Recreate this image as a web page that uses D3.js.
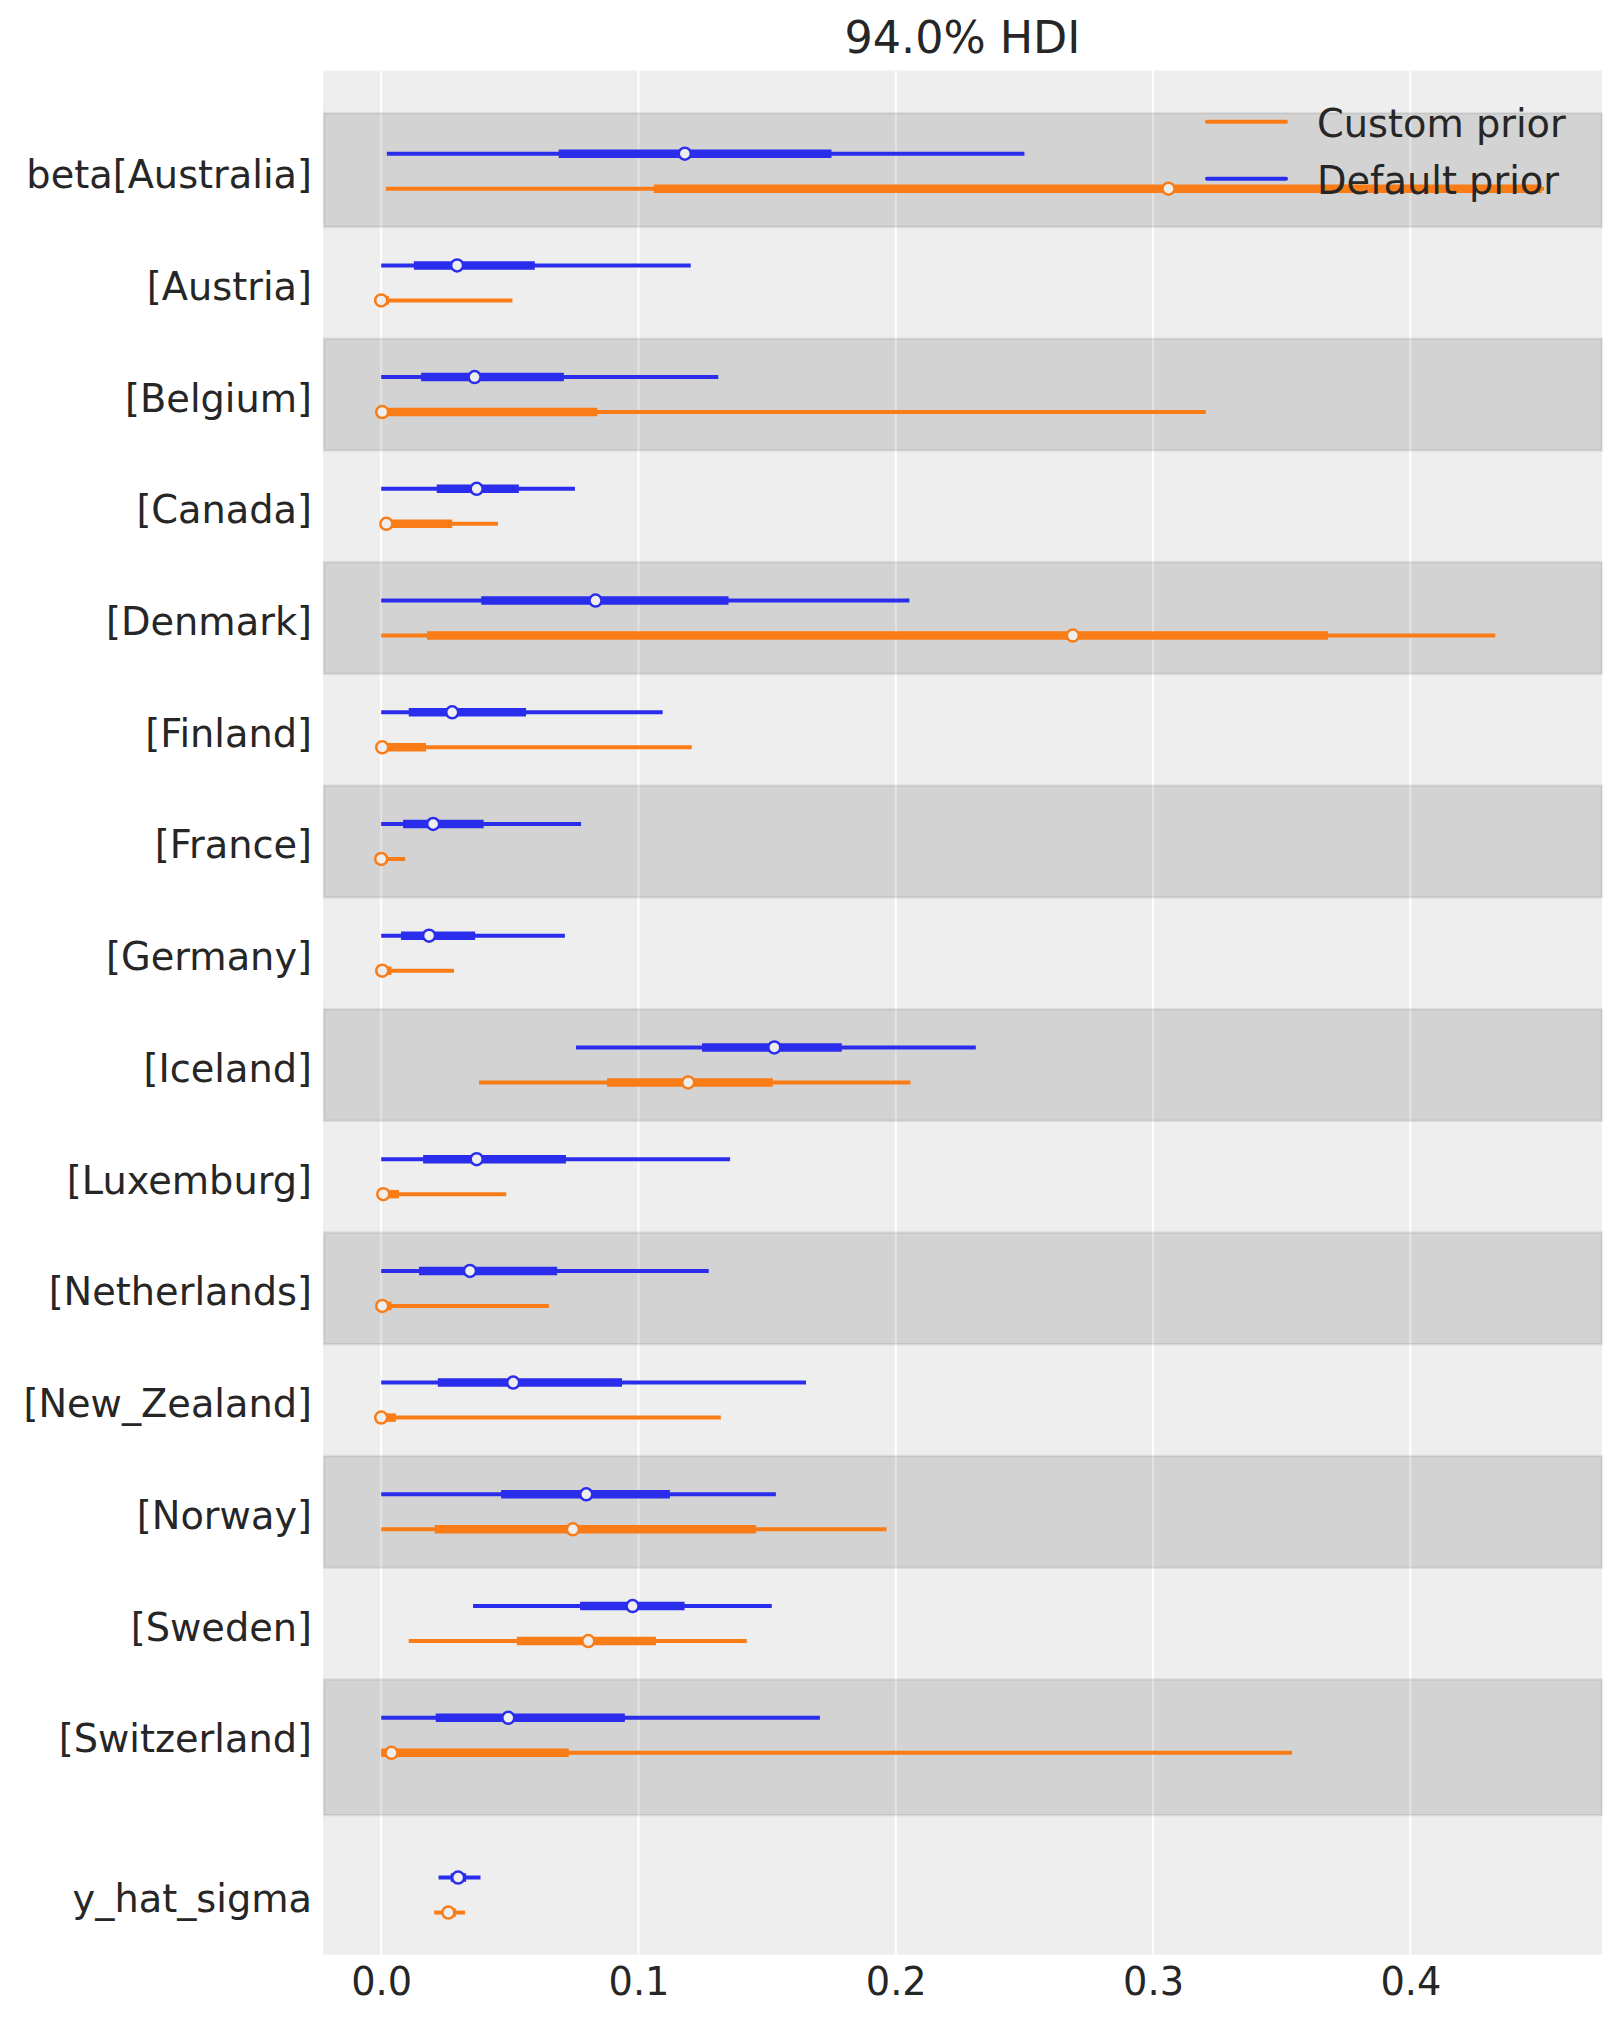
<!DOCTYPE html>
<html>
<head>
<meta charset="utf-8">
<script src="https://cdn.jsdelivr.net/npm/d3@7"></script>
<style>
  html, body { margin: 0; padding: 0; background: #ffffff; }
  svg { display: block; }
  text { font-family: "DejaVu Sans", sans-serif; fill: #262626; }
</style>
</head>
<body>
<svg id="chart" width="1623" height="2023"></svg>
<script>
// ---------- data ----------
const labels = ["beta[Australia]", "[Austria]", "[Belgium]", "[Canada]", "[Denmark]", "[Finland]",
  "[France]", "[Germany]", "[Iceland]", "[Luxemburg]", "[Netherlands]", "[New_Zealand]",
  "[Norway]", "[Sweden]", "[Switzerland]", "y_hat_sigma"];
const variableOfRow = ["beta","beta","beta","beta","beta","beta","beta","beta","beta","beta",
  "beta","beta","beta","beta","beta","y_hat_sigma"];

const models = ["Custom prior", "Default prior"];

// Default prior: 94% HDI low, IQR low, median, IQR high, 94% HDI high
const defaultHdiLow  = [0.0022, 0.0, 0.0, 0.0, 0.0, 0.0, 0.0, 0.0, 0.0757, 0.0, 0.0, 0.0, 0.0, 0.0357, 0.0, 0.0223];
const defaultQLow    = [0.069, 0.0127, 0.0155, 0.0216, 0.0389, 0.0107, 0.0085, 0.0077, 0.1247, 0.0163, 0.0147, 0.022, 0.0466, 0.0773, 0.0212, 0.027];
const defaultMedian  = [0.118, 0.0295, 0.0363, 0.0371, 0.0833, 0.0276, 0.0202, 0.0186, 0.1528, 0.0371, 0.0345, 0.0513, 0.0797, 0.0977, 0.0494, 0.0299];
const defaultQHigh   = [0.175, 0.0597, 0.071, 0.0535, 0.135, 0.0563, 0.0398, 0.0365, 0.179, 0.0718, 0.0684, 0.0936, 0.1122, 0.1179, 0.0947, 0.033];
const defaultHdiHigh = [0.250, 0.1203, 0.131, 0.0753, 0.2053, 0.1094, 0.0777, 0.0714, 0.2311, 0.1356, 0.1273, 0.1651, 0.1534, 0.1518, 0.1705, 0.0386];

// Custom prior
const customHdiLow  = [0.0018, 0.0, 0.0, 0.0, 0.0, 0.0, 0.0, 0.0, 0.038, 0.0, 0.0, 0.0, 0.0, 0.0107, 0.0, 0.0206];
const customQLow    = [0.106, 0.0, 0.0, 0.002, 0.0178, 0.0, 0.0, 0.0, 0.0878, 0.0, 0.0, 0.0, 0.0208, 0.0527, 0.0, 0.024];
const customMedian  = [0.306, 0.0, 0.0004, 0.002, 0.2688, 0.0004, 0.0, 0.0004, 0.1193, 0.0008, 0.0004, 0.0, 0.0745, 0.0805, 0.004, 0.0261];
const customQHigh   = [0.451, 0.003, 0.084, 0.0276, 0.368, 0.0174, 0.002, 0.004, 0.1522, 0.0069, 0.004, 0.0057, 0.1457, 0.1068, 0.0729, 0.029];
const customHdiHigh = [0.452, 0.051, 0.3205, 0.0454, 0.433, 0.1207, 0.0093, 0.0283, 0.2057, 0.0486, 0.0652, 0.132, 0.1964, 0.1421, 0.354, 0.0326];

const xTicks = [0.0, 0.1, 0.2, 0.3, 0.4];
const title = "94.0% HDI";

// ---------- layout ----------
const W = 1623, H = 2023;
const plotLeft = 323, plotRight = 1602, plotTop = 70.5, plotBottom = 1954.7;
const colors = { "Custom prior": "#fa7c17", "Default prior": "#2a2eec" };
const varGap = 1.43;       // spacing between the two variables (in row units)
const modelOffset = 17.5;  // px offset of each model line from row centre
const thinW = 4, thickW = 8.5, dotR = 6;
const fontSize = 38.3;

// row positions in row units
const rowPos = [];
labels.forEach((l, i) => {
  if (i === 0) rowPos.push(0);
  else if (variableOfRow[i] !== variableOfRow[i - 1]) rowPos.push(rowPos[i - 1] + varGap);
  else rowPos.push(rowPos[i - 1] + 1);
});

const x = d3.scaleLinear().domain([-0.02262, 0.47448]).range([plotLeft, plotRight]);
const y = d3.scaleLinear().domain([-0.901, 15.964]).range([plotTop, plotBottom]);

const svg = d3.select("#chart");
svg.append("rect").attr("width", W).attr("height", H).attr("fill", "#ffffff");

// axes background
svg.append("rect")
  .attr("x", plotLeft).attr("y", plotTop)
  .attr("width", plotRight - plotLeft).attr("height", plotBottom - plotTop)
  .attr("fill", "#eeeeee");

// vertical grid
svg.append("g").selectAll("line").data(xTicks).join("line")
  .attr("x1", d => x(d)).attr("x2", d => x(d))
  .attr("y1", plotTop).attr("y2", plotBottom)
  .attr("stroke", "#ffffff").attr("stroke-width", 2);

// shaded bands (every other row)
const bands = [];
rowPos.forEach((p, i) => {
  if (i % 2 !== 0) return;
  const top = i === 0 ? p - 0.52 : (rowPos[i - 1] + p) / 2;
  const bottom = i === rowPos.length - 1 ? p + 0.5 : (rowPos[i + 1] + p) / 2;
  if (variableOfRow[i] === "beta") bands.push({ top, bottom });
});
svg.append("g").selectAll("rect").data(bands).join("rect")
  .attr("x", plotLeft + 1).attr("width", plotRight - plotLeft - 1)
  .attr("y", d => y(d.top)).attr("height", d => y(d.bottom) - y(d.top))
  .attr("fill", "rgba(0,0,0,0.11)")
  .attr("stroke", "rgba(0,0,0,0.07)").attr("stroke-width", 2.5);

// forest lines
const series = [
  { model: "Default prior", lo: defaultHdiLow, ql: defaultQLow, med: defaultMedian, qh: defaultQHigh, hi: defaultHdiHigh, off: -modelOffset },
  { model: "Custom prior", lo: customHdiLow, ql: customQLow, med: customMedian, qh: customQHigh, hi: customHdiHigh, off: modelOffset }
];

series.forEach(s => {
  const g = svg.append("g");
  const rows = labels.map((l, i) => ({ i, cy: y(rowPos[i]) + s.off }));
  g.selectAll("line.thin").data(rows).join("line").attr("class", "thin")
    .attr("x1", d => x(s.lo[d.i])).attr("x2", d => x(s.hi[d.i]))
    .attr("y1", d => d.cy).attr("y2", d => d.cy)
    .attr("stroke", colors[s.model]).attr("stroke-width", thinW);
  g.selectAll("line.thick").data(rows).join("line").attr("class", "thick")
    .attr("x1", d => x(s.ql[d.i])).attr("x2", d => x(s.qh[d.i]))
    .attr("y1", d => d.cy).attr("y2", d => d.cy)
    .attr("stroke", colors[s.model]).attr("stroke-width", thickW);
  g.selectAll("circle").data(rows).join("circle")
    .attr("cx", d => x(s.med[d.i])).attr("cy", d => d.cy).attr("r", dotR)
    .attr("fill", "#eeeeee").attr("stroke", colors[s.model]).attr("stroke-width", 2.5);
});

// y labels
svg.append("g").selectAll("text").data(labels).join("text")
  .attr("x", 312).attr("y", (d, i) => y(rowPos[i]) + 17)
  .attr("text-anchor", "end").attr("font-size", fontSize)
  .text(d => d);

// x axis tick labels
const xAxis = d3.axisBottom(x).tickValues(xTicks).tickFormat(d3.format(".1f")).tickSize(0).tickPadding(0);
const ax = svg.append("g").attr("transform", `translate(0,${plotBottom})`).call(xAxis);
ax.select(".domain").remove();
ax.selectAll("text")
  .attr("font-family", "DejaVu Sans").attr("font-size", fontSize)
  .attr("fill", "#262626").attr("dy", null).attr("y", 40.3);

// title
svg.append("text").attr("x", (plotLeft + plotRight) / 2).attr("y", 53)
  .attr("text-anchor", "middle").attr("font-size", 44.4).text(title);

// legend
const legendItems = models;
const lg = svg.append("g");
legendItems.forEach((m, k) => {
  const ly = 121.7 + k * 57;
  lg.append("line").attr("x1", 1207).attr("x2", 1286).attr("y1", ly).attr("y2", ly)
    .attr("stroke", colors[m]).attr("stroke-width", 4).attr("stroke-linecap", "round");
  lg.append("text").attr("x", 1317).attr("y", ly + 15).attr("font-size", fontSize).text(m);
});
</script>
</body>
</html>
